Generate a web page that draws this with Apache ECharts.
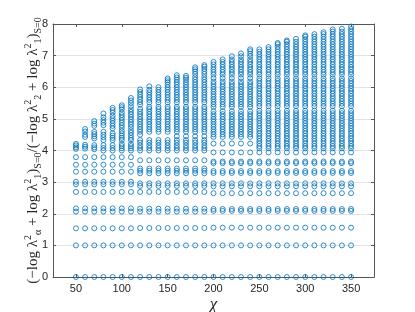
<!DOCTYPE html>
<html><head><meta charset="utf-8">
<script src="https://cdn.jsdelivr.net/npm/echarts@6/dist/echarts.min.js"></script>
<style>html,body{margin:0;padding:0;background:#fff}#c{width:415px;height:312px}</style>
</head><body><div id="c"></div>
<script>
const chi = [50,60,70,80,90,100,110,120,130,140,150,160,170,180,190,200,210,220,230,240,250,260,270,280,290,300,310,320,330,340,350];
const xTicks = [50,100,150,200,250,300,350];
const yTicks = [0,1,2,3,4,5,6,7,8];

// lower levels shared by groups of columns
const lowA = [0,1.0,1.54,2.07,2.17,2.69,2.93,3.01,3.33,3.55,3.79];            // chi 50-110
const lowB = [0,1.0,1.55,2.07,2.16,2.69,2.88,2.96,3.28,3.36,3.43,3.69];       // chi 120-190
const lowC = [0,1.0,1.56,2.09,2.15,2.65,2.87,2.96,3.29,3.35,3.6,3.65,3.94];   // chi 200-350

// upper values per column
const u50 = [4.05,4.1,4.16,4.21];
const u60 = [4.06,4.12,4.18,4.43,4.5,4.6,4.68];
const u70 = [4.04,4.1,4.17,4.38,4.45,4.52,4.59,4.78,4.85,4.93];
const u80 = [4.0,4.08,4.17,4.33,4.42,4.5,4.59,4.8,4.88,4.96,5.05,5.17];
const u90 = [4.0,4.08,4.17,4.33,4.4,4.47,4.54,4.7,4.78,4.86,4.94,5.02,5.1,5.2,5.28,5.35];
const u100 = [4.0,4.07,4.14,4.21,4.33,4.4,4.47,4.54,4.62,4.72,4.8,4.88,4.96,5.04,5.12,5.2,5.3,5.37,5.43];
const u110 = [4.0,4.07,4.14,4.21,4.33,4.4,4.48,4.56,4.64,4.74,4.82,4.9,4.98,5.06,5.14,5.22,5.3,5.4,5.5,5.58,5.66];
const u120 = [4.0,4.08,4.16,4.25,4.33,4.5,4.59,4.67,4.75,4.83,4.91,4.99,5.07,5.15,5.23,5.31,5.45,5.53,5.61,5.69,5.77,5.85,5.93];
const u130 = [4.0,4.08,4.16,4.25,4.33,4.59,4.67,4.75,4.83,4.91,4.99,5.07,5.15,5.23,5.31,5.38,5.52,5.6,5.68,5.76,5.84,5.92,6.03];
const u140 = [4.0,4.08,4.16,4.25,4.33,4.59,4.67,4.75,4.83,4.91,4.99,5.07,5.15,5.23,5.31,5.38,5.52,5.6,5.68,5.76,5.84,5.92,6.0];
const u150 = [4.0,4.08,4.16,4.25,4.33,4.59,4.67,4.75,4.83,4.91,4.99,5.07,5.15,5.23,5.31,5.38,5.52,5.6,5.68,5.76,5.84,5.92,6.0,6.08,6.16,6.22,6.28];
const u160 = [4.0,4.08,4.16,4.25,4.33,4.45,4.59,4.67,4.75,4.83,4.91,4.99,5.07,5.15,5.23,5.31,5.38,5.52,5.6,5.68,5.76,5.84,5.92,6.0,6.08,6.16,6.24,6.31,6.38];
const u170 = [4.0,4.08,4.16,4.25,4.33,4.45,4.59,4.67,4.75,4.83,4.91,4.99,5.07,5.15,5.23,5.31,5.38,5.52,5.6,5.68,5.76,5.84,5.92,6.0,6.08,6.16,6.24,6.3,6.36];
const u180 = [4.0,4.08,4.16,4.25,4.33,4.45,4.59,4.67,4.75,4.83,4.91,4.99,5.07,5.15,5.23,5.31,5.38,5.52,5.6,5.68,5.76,5.84,5.92,6.0,6.08,6.16,6.24,6.32,6.42,6.5,6.57,6.63];
const u190 = [4.0,4.08,4.16,4.25,4.33,4.45,4.59,4.67,4.75,4.83,4.91,4.99,5.07,5.15,5.23,5.31,5.38,5.52,5.6,5.68,5.76,5.84,5.92,6.0,6.08,6.16,6.24,6.32,6.42,6.5,6.58,6.65,6.7];
const u200 = [4.22,4.43,4.51,4.59,4.67,4.75,4.83,4.91,4.99,5.07,5.15,5.24,5.38,5.46,5.54,5.62,5.7,5.78,5.86,5.94,6.02,6.1,6.18,6.29,6.4,6.48,6.56,6.64,6.72,6.8];
const u210 = [4.22,4.43,4.51,4.59,4.67,4.75,4.83,4.91,4.99,5.07,5.15,5.24,5.38,5.46,5.54,5.62,5.7,5.78,5.86,5.94,6.02,6.1,6.18,6.29,6.4,6.48,6.56,6.64,6.72,6.8,6.88];
const u220 = [4.22,4.43,4.51,4.59,4.67,4.75,4.83,4.91,4.99,5.07,5.15,5.24,5.38,5.46,5.54,5.62,5.7,5.78,5.86,5.94,6.02,6.1,6.18,6.29,6.4,6.48,6.56,6.64,6.72,6.8,6.88,6.98];
const u230 = [4.22,4.43,4.51,4.59,4.67,4.75,4.83,4.91,4.99,5.07,5.15,5.24,5.38,5.46,5.54,5.62,5.7,5.78,5.86,5.94,6.02,6.1,6.18,6.29,6.4,6.48,6.56,6.64,6.72,6.8,6.88,6.98,7.07];
const u240 = [4.22,4.43,4.51,4.59,4.67,4.75,4.83,4.91,4.99,5.07,5.15,5.24,5.38,5.46,5.54,5.62,5.7,5.78,5.86,5.94,6.02,6.1,6.18,6.29,6.4,6.48,6.56,6.64,6.72,6.8,6.88,6.98,7.06,7.14,7.2];
const u250 = [4.07,4.14,4.22,4.3,4.38,4.46,4.54,4.62,4.7,4.78,4.86,4.94,5.02,5.1,5.18,5.26,5.4,5.48,5.56,5.64,5.72,5.8,5.88,5.96,6.04,6.12,6.2,6.28,6.4,6.48,6.56,6.64,6.72,6.8,6.88,6.96,7.04,7.12,7.2];
const u260 = [4.07,4.14,4.22,4.3,4.38,4.46,4.54,4.62,4.7,4.78,4.86,4.94,5.02,5.1,5.18,5.26,5.4,5.48,5.56,5.64,5.72,5.8,5.88,5.96,6.04,6.12,6.2,6.28,6.4,6.48,6.56,6.64,6.72,6.8,6.88,6.96,7.04,7.12,7.2,7.27];
const u270 = [4.07,4.14,4.22,4.3,4.38,4.46,4.54,4.62,4.7,4.78,4.86,4.94,5.02,5.1,5.18,5.26,5.4,5.48,5.56,5.64,5.72,5.8,5.88,5.96,6.04,6.12,6.2,6.28,6.4,6.48,6.56,6.64,6.72,6.8,6.88,6.96,7.04,7.12,7.2,7.28,7.36,7.4];
const u280 = [4.07,4.14,4.22,4.3,4.38,4.46,4.54,4.62,4.7,4.78,4.86,4.94,5.02,5.1,5.18,5.26,5.4,5.48,5.56,5.64,5.72,5.8,5.88,5.96,6.04,6.12,6.2,6.28,6.4,6.48,6.56,6.64,6.72,6.8,6.88,6.96,7.04,7.12,7.2,7.28,7.36,7.44,7.48];
const u290 = [4.07,4.14,4.22,4.3,4.38,4.46,4.54,4.62,4.7,4.78,4.86,4.94,5.02,5.1,5.18,5.26,5.4,5.48,5.56,5.64,5.72,5.8,5.88,5.96,6.04,6.12,6.2,6.28,6.4,6.48,6.56,6.64,6.72,6.8,6.88,6.96,7.04,7.12,7.2,7.28,7.36,7.44,7.53];
const u300 = [4.07,4.14,4.22,4.3,4.38,4.46,4.54,4.62,4.7,4.78,4.86,4.94,5.02,5.1,5.18,5.26,5.4,5.48,5.56,5.64,5.72,5.8,5.88,5.96,6.04,6.12,6.2,6.28,6.4,6.48,6.56,6.64,6.72,6.8,6.88,6.96,7.04,7.12,7.2,7.28,7.36,7.44,7.52,7.6,7.64];
const u310 = [4.07,4.14,4.22,4.3,4.38,4.46,4.54,4.62,4.7,4.78,4.86,4.94,5.02,5.1,5.18,5.26,5.4,5.48,5.56,5.64,5.72,5.8,5.88,5.96,6.04,6.12,6.2,6.28,6.4,6.48,6.56,6.64,6.72,6.8,6.88,6.96,7.04,7.12,7.2,7.28,7.36,7.44,7.52,7.6,7.68];
const u320 = [4.07,4.14,4.22,4.3,4.38,4.46,4.54,4.62,4.7,4.78,4.86,4.94,5.02,5.1,5.18,5.26,5.4,5.48,5.56,5.64,5.72,5.8,5.88,5.96,6.04,6.12,6.2,6.28,6.4,6.48,6.56,6.64,6.72,6.8,6.88,6.96,7.04,7.12,7.2,7.28,7.36,7.44,7.52,7.6,7.68,7.74];
const u330 = [4.07,4.14,4.22,4.3,4.38,4.46,4.54,4.62,4.7,4.78,4.86,4.94,5.02,5.1,5.18,5.26,5.4,5.48,5.56,5.64,5.72,5.8,5.88,5.96,6.04,6.12,6.2,6.28,6.4,6.48,6.56,6.64,6.72,6.8,6.88,6.96,7.04,7.12,7.2,7.28,7.36,7.44,7.52,7.6,7.68,7.76,7.83];
const u340 = [4.07,4.14,4.22,4.3,4.38,4.46,4.54,4.62,4.7,4.78,4.86,4.94,5.02,5.1,5.18,5.26,5.4,5.48,5.56,5.64,5.72,5.8,5.88,5.96,6.04,6.12,6.2,6.28,6.4,6.48,6.56,6.64,6.72,6.8,6.88,6.96,7.04,7.12,7.2,7.28,7.36,7.44,7.52,7.6,7.68,7.76,7.85];
const u350 = [4.07,4.14,4.22,4.3,4.38,4.46,4.54,4.62,4.7,4.78,4.86,4.94,5.02,5.1,5.18,5.26,5.4,5.48,5.56,5.64,5.72,5.8,5.88,5.96,6.04,6.12,6.2,6.28,6.4,6.48,6.56,6.64,6.72,6.8,6.88,6.96,7.04,7.12,7.2,7.28,7.36,7.44,7.52,7.6,7.68,7.76,7.84,7.92];

const uppers = [u50,u60,u70,u80,u90,u100,u110,u120,u130,u140,u150,u160,u170,u180,u190,u200,u210,u220,u230,u240,u250,u260,u270,u280,u290,u300,u310,u320,u330,u340,u350];
const lowers = [lowA,lowA,lowA,lowA,lowA,lowA,lowA,lowB,lowB,lowB,lowB,lowB,lowB,lowB,lowB,lowC,lowC,lowC,lowC,lowC,lowC,lowC,lowC,lowC,lowC,lowC,lowC,lowC,lowC,lowC,lowC];

const points = [];
chi.forEach((x, i) => {
  lowers[i].concat(uppers[i]).forEach(y => points.push([x, y]));
});

const axisColor = '#555';
const labelFont = 'Liberation Sans, Arial, sans-serif';
const serif = 'Liberation Serif, serif';
const chart = echarts.init(document.getElementById('c'), null, {renderer: 'canvas'});
chart.setOption({
  animation: false,
  backgroundColor: '#fff',
  grid: {left: 53, right: 41, top: 24, bottom: 35, containLabel: false, outerBoundsMode: 'none'},
  xAxis: [{
    type: 'value', min: 25, max: 375, position: 'bottom',
    axisLine: {show: true, onZero: false, lineStyle: {color: axisColor, width: 1}},
    axisTick: {show: true, inside: true, length: 3, customValues: xTicks, lineStyle: {color: axisColor}},
    axisLabel: {customValues: xTicks, color: '#262626', fontSize: 11, fontFamily: labelFont, margin: 6},
    splitLine: {show: false},
    name: 'χ', nameLocation: 'middle', nameGap: 19, nameMoveOverlap: false,
    nameTextStyle: {fontFamily: serif, fontStyle: 'italic', fontSize: 17, color: '#262626'}
  }, {
    type: 'value', min: 25, max: 375, position: 'top',
    axisLine: {show: true, onZero: false, lineStyle: {color: axisColor, width: 1}},
    axisTick: {show: true, inside: true, length: 3, customValues: xTicks, lineStyle: {color: axisColor}},
    axisLabel: {show: false},
    splitLine: {show: false}
  }],
  yAxis: [{
    type: 'value', min: 0, max: 8, interval: 1, position: 'left',
    axisLine: {show: true, onZero: false, lineStyle: {color: axisColor, width: 1}},
    axisTick: {show: true, inside: true, length: 3, lineStyle: {color: axisColor}},
    axisLabel: {color: '#262626', fontSize: 11, fontFamily: labelFont, margin: 5},
    splitLine: {show: true, lineStyle: {color: '#e3e3e3', width: 1}},
    name: '(−log λ{sup|2}{sub|α} + log λ{sup|2}{sub|1}){sub|S=0}/(−log λ{sup|2}{sub|2} + log λ{sup|2}{sub|1}){sub|S=0}',
    nameLocation: 'middle', nameRotate: 90, nameGap: 10, nameMoveOverlap: false,
    nameTextStyle: {
      fontFamily: serif, fontSize: 15, color: '#262626', lineHeight: 20,
      rich: {
        sup: {fontFamily: serif, fontSize: 10, lineHeight: 10, verticalAlign: 'top', color: '#262626'},
        sub: {fontFamily: serif, fontSize: 10, lineHeight: 10, verticalAlign: 'bottom', color: '#262626'}
      }
    }
  }, {
    type: 'value', min: 0, max: 8, interval: 1, position: 'right',
    axisLine: {show: true, onZero: false, lineStyle: {color: axisColor, width: 1}},
    axisTick: {show: true, inside: true, length: 3, lineStyle: {color: axisColor}},
    axisLabel: {show: false},
    splitLine: {show: false}
  }],
  series: [{
    type: 'scatter', xAxisIndex: 0, yAxisIndex: 0,
    data: points,
    symbol: 'circle', symbolSize: 5,
    itemStyle: {color: 'rgba(0,0,0,0)', borderColor: '#0072BD', borderWidth: 1},
    emphasis: {disabled: true},
    clip: false,
    z: 3
  }]
});
</script>
</body></html>
